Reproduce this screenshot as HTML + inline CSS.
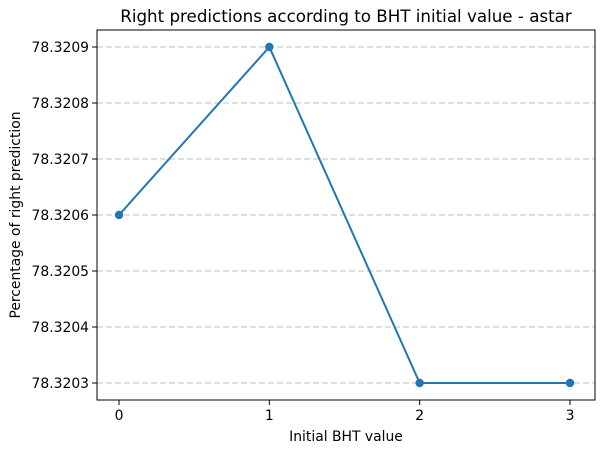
<!DOCTYPE html>
<html><head><meta charset="utf-8"><style>
body{margin:0;background:#fff;font-family:"DejaVu Sans","Liberation Sans",sans-serif;}
</style></head><body>
<svg id="chart" width="602" height="453" xmlns="http://www.w3.org/2000/svg">
<rect x="0" y="0" width="602" height="453" fill="#fff"/>
<g id="grid"></g>
<g id="series"></g>
<rect x="97" y="30" width="498" height="370" fill="none" stroke="#000" stroke-width="1"/>
<g id="axes" font-size="13.9" fill="#000"></g>
<text x="346" y="22" text-anchor="middle" font-size="16.7">Right predictions according to BHT initial value - astar</text>
<text x="346" y="441" text-anchor="middle" font-size="13.9">Initial BHT value</text>
<text transform="translate(20,215) rotate(-90)" text-anchor="middle" font-size="13.9">Percentage of right prediction</text>
</svg>
<script>
const categories=[0,1,2,3];
const values=[78.3206,78.3209,78.3203,78.3203];
const yTicks=[78.3203,78.3204,78.3205,78.3206,78.3207,78.3208,78.3209];
const NS="http://www.w3.org/2000/svg";
function xs(v){return 119+(v-0)*150.33;}
function ys(v){return 383-(v-78.3203)/0.0001*56;}
function mk(t,a,p){const e=document.createElementNS(NS,t);for(const k in a)e.setAttribute(k,a[k]);p.appendChild(e);return e;}
const grid=document.getElementById('grid'),axes=document.getElementById('axes'),ser=document.getElementById('series');
yTicks.forEach(t=>{const y=ys(t);
const g=mk('line',{x1:97,x2:595,y1:y,y2:y,stroke:'#bfbfbf','stroke-dasharray':'6,3'},grid);


mk('line',{x1:92,x2:97,y1:y,y2:y,stroke:'#000'},axes);
const l=mk('text',{x:89,y:y+5,'text-anchor':'end'},axes);l.textContent=t.toFixed(4);

});
categories.forEach(c=>{const x=xs(c);
mk('line',{x1:x,x2:x,y1:400,y2:405,stroke:'#000'},axes);
const l=mk('text',{x:x,y:420,'text-anchor':'middle'},axes);l.textContent=c;

});
const pl=mk('polyline',{points:categories.map((c,i)=>xs(c)+','+ys(values[i])).join(' '),fill:'none',stroke:'#1f77b4','stroke-width':2},ser);


categories.forEach((c,i)=>{const p=mk('circle',{cx:xs(c),cy:ys(values[i]),r:4.2,fill:'#1f77b4'},ser);

});
</script>
</body></html>
